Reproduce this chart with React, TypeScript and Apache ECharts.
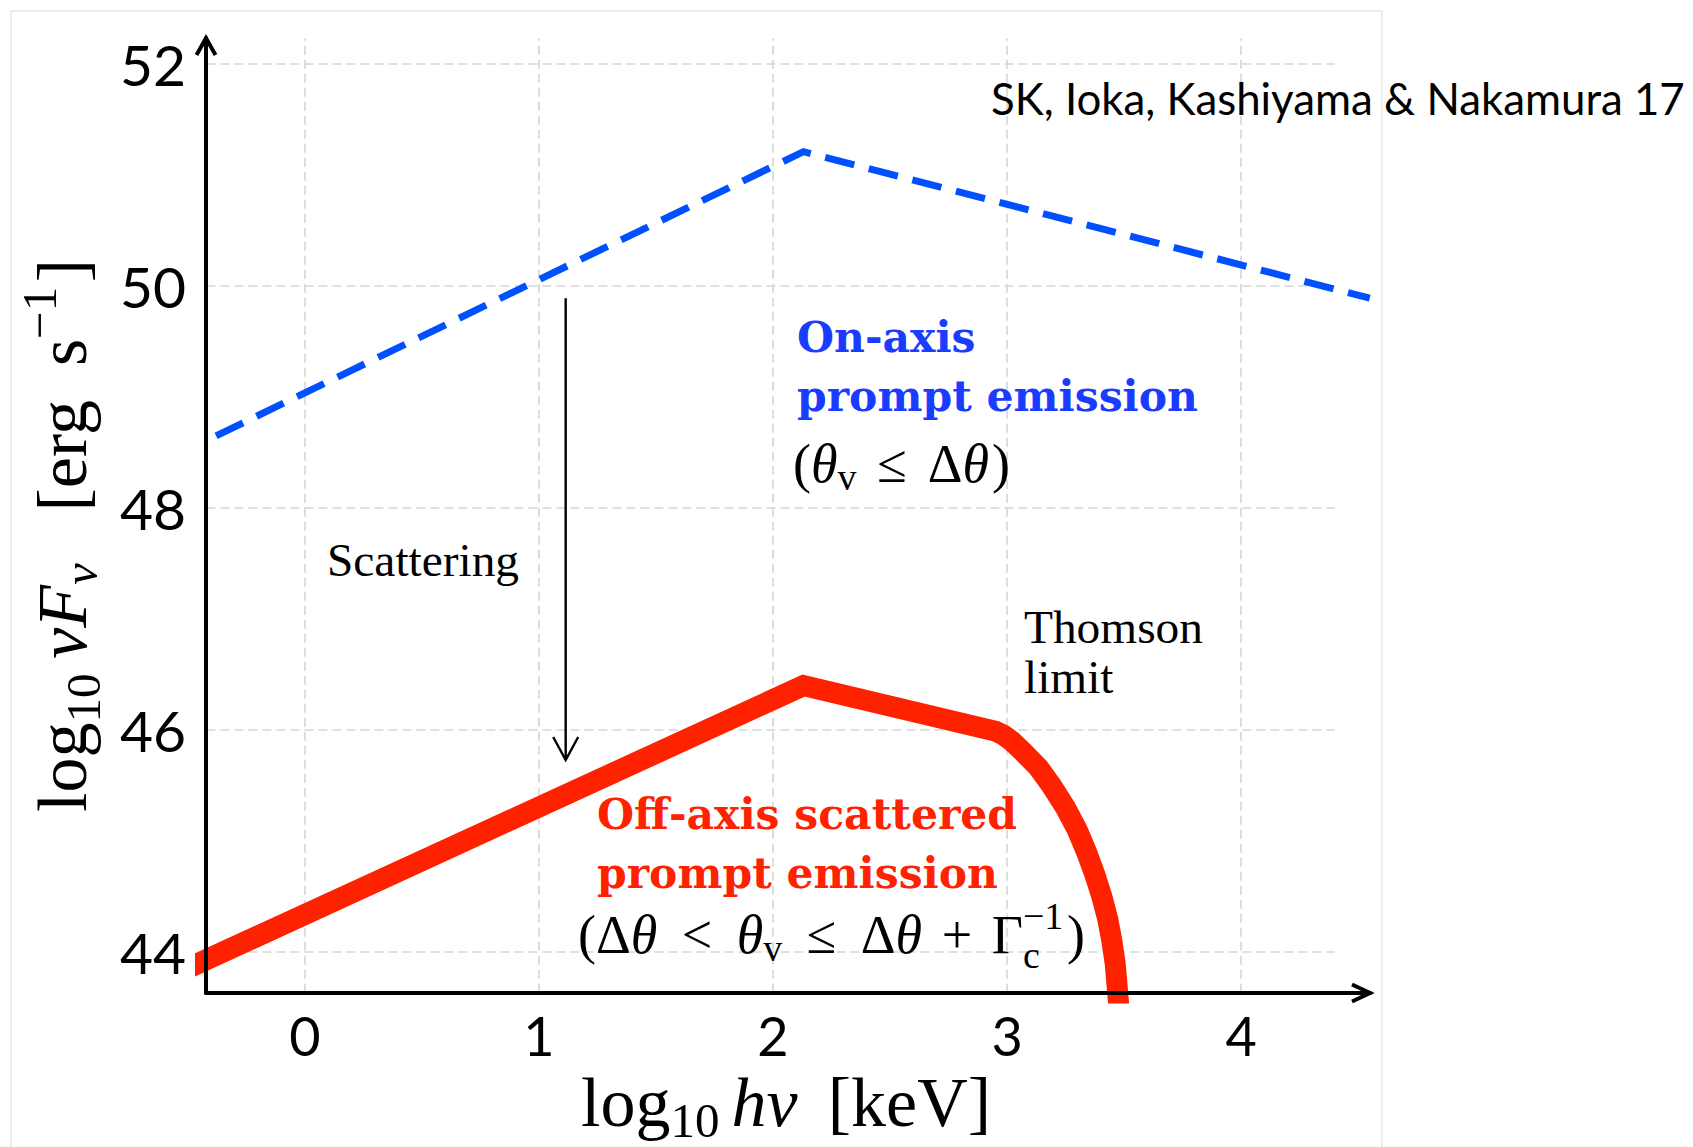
import React, { useEffect, useRef } from "react";
import * as echarts from "echarts";

// Axis extents: log10 hν [keV] horizontally, log10 νFν [erg/s] vertically
const X_MIN = -0.423;
const X_MAX = 4.551;
const Y_MIN = 43.631;
const Y_MAX = 52.234;
const X_TICKS = [0, 1, 2, 3, 4];
const Y_TICKS = [44, 46, 48, 50, 52];
const H_GRID_END = 4.4; // horizontal guides stop short of the arrow head

// On-axis prompt emission: broken power law
const ON_AXIS_X = [-0.38, 2.13, 4.55];
const ON_AXIS_Y = [48.65, 51.21, 49.89];

// Off-axis scattered prompt emission, cut off above the Thomson limit
const OFF_AXIS_X = [-0.5, 2.13, 2.9, 2.95, 2.985, 3.02, 3.07, 3.135, 3.19, 3.25, 3.3, 3.34, 3.375, 3.405, 3.43, 3.448, 3.462, 3.48];
const OFF_AXIS_Y = [43.855, 46.4, 46.015, 45.99, 45.955, 45.9, 45.8, 45.66, 45.5, 45.3, 45.1, 44.9, 44.7, 44.5, 44.3, 44.1, 43.9, 43.45];

// "Scattering" arrow from the on-axis to the off-axis spectrum
const SCATTER_ARROW_X = [1.114, 1.114];
const SCATTER_ARROW_Y = [49.89, 45.73];

const GRID = { left: 206, top: 38, width: 1164, height: 955 };

const SERIF = "'Liberation Serif', 'Times New Roman', serif";
const BOLD_SERIF = "'DejaVu Serif', serif";
const SANS = "Lato, 'Open Sans', sans-serif";
// distance from the alphabetic baseline to the central baseline, in em
const K_SERIF = 0.3375;
const K_DEJAVU = 0.346;
const K_LATO = 0.387;

const BLUE_LINE = "#0050ff";
const BLUE_TEXT = "#1a3cff";
const RED = "#ff2200";

type Run = { t: string; s: number; it?: boolean; bf?: boolean; fam?: string; k?: number; dy?: number };
type Item = Run | { stack: Run[] } | { gap: number };

const zip = (xs: number[], ys: number[]) => xs.map((x, i) => [x, ys[i]]);

let measureCtx: CanvasRenderingContext2D | null = null;
function fontOf(r: Run) {
  return `${r.it ? "italic " : ""}${r.bf ? "bold " : ""}${r.s}px ${r.fam ?? SERIF}`;
}
function widthOf(r: Run) {
  if (!measureCtx) measureCtx = document.createElement("canvas").getContext("2d");
  measureCtx!.font = fontOf(r);
  return measureCtx!.measureText(r.t).width;
}
function itemWidth(it: Item): number {
  if ("gap" in it) return 0;
  if ("stack" in it) return Math.max(...it.stack.map(widthOf));
  return widthOf(it);
}
function fitSize(text: string, fam: string, bf: boolean, target: number) {
  return (target / widthOf({ t: text, s: 100, fam, bf })) * 100;
}

// Lays out a row of text runs on one baseline; gaps share the leftover width up to x1.
function setLine(items: Item[], x0: number, x1: number | null, baseline: number, fill: string) {
  const natural = items.reduce((a, it) => a + itemWidth(it), 0);
  const gapSum = items.reduce((a, it) => a + ("gap" in it ? it.gap : 0), 0);
  const unit = x1 !== null && gapSum > 0 ? (x1 - x0 - natural) / gapSum : 0;
  const els: any[] = [];
  const put = (r: Run, x: number) =>
    els.push({
      type: "text",
      x,
      y: baseline + (r.dy ?? 0) - (r.k ?? K_SERIF) * r.s,
      z: 100,
      silent: true,
      style: {
        text: r.t,
        font: fontOf(r),
        fill,
        align: "left",
        verticalAlign: "middle",
        textAlign: "left",
        textVerticalAlign: "middle",
      },
    });
  let x = x0;
  for (const it of items) {
    if ("gap" in it) {
      x += it.gap * unit;
      continue;
    }
    if ("stack" in it) it.stack.forEach((r) => put(r, x));
    else put(it, x);
    x += itemWidth(it);
  }
  return els;
}

function buildGraphics(px: (x: number, y: number) => number[]) {
  const els: any[] = [];

  // light frame around the figure
  els.push({
    type: "rect",
    z: 0,
    silent: true,
    shape: { x: 11, y: 11, width: 1371, height: 1150 },
    style: { fill: "none", stroke: "#e6e6e6", lineWidth: 1.5 },
  });

  // axis arrow heads
  const xEnd = px(X_MAX, Y_MIN);
  const yEnd = px(X_MIN, Y_MAX);
  els.push({
    type: "polyline",
    z: 100,
    silent: true,
    shape: { points: [[xEnd[0] - 18, xEnd[1] - 8.5], xEnd, [xEnd[0] - 18, xEnd[1] + 8.5]] },
    style: { stroke: "#000", lineWidth: 4, fill: "none", lineJoin: "miter" },
  });
  els.push({
    type: "polyline",
    z: 100,
    silent: true,
    shape: { points: [[yEnd[0] - 9.5, yEnd[1] + 17], yEnd, [yEnd[0] + 9.5, yEnd[1] + 17]] },
    style: { stroke: "#000", lineWidth: 4, fill: "none", lineJoin: "miter" },
  });
  const tip = px(SCATTER_ARROW_X[1], SCATTER_ARROW_Y[1]);
  els.push({
    type: "polyline",
    z: 100,
    silent: true,
    shape: { points: [[tip[0] - 12.5, tip[1] - 23], tip, [tip[0] + 12.5, tip[1] - 23]] },
    style: { stroke: "#000", lineWidth: 2.4, fill: "none", lineJoin: "miter" },
  });

  // credit line
  const skSize = fitSize("SK, Ioka, Kashiyama & Nakamura 17", SANS, false, 694);
  els.push(...setLine([{ t: "SK, Ioka, Kashiyama & Nakamura 17", s: skSize, fam: SANS, k: K_LATO }], 991, null, 115, "#000"));

  // plain serif notes
  const noteSize = (fitSize("Scattering", SERIF, false, 193) + fitSize("Thomson", SERIF, false, 178)) / 2;
  els.push(...setLine([{ t: "Scattering", s: noteSize }], 327, null, 576, "#000"));
  els.push(...setLine([{ t: "Thomson", s: noteSize }], 1024, null, 643, "#000"));
  els.push(...setLine([{ t: "limit", s: noteSize }], 1024, null, 693, "#000"));

  // bold spectrum labels
  const bs = fitSize("prompt emission", BOLD_SERIF, true, 401);
  const bold = (t: string): Run => ({ t, s: bs, bf: true, fam: BOLD_SERIF, k: K_DEJAVU });
  els.push(...setLine([bold("On-axis")], 797, null, 352, BLUE_TEXT));
  els.push(...setLine([bold("prompt emission")], 797, null, 411, BLUE_TEXT));
  els.push(...setLine([bold("Off-axis scattered")], 597, null, 829, RED));
  els.push(...setLine([bold("prompt emission")], 597, null, 888, RED));

  // viewing-angle conditions
  const m = 54;
  const sub = 38;
  els.push(
    ...setLine(
      [
        { t: "(", s: m },
        { t: "θ", s: m, it: true },
        { t: "v", s: sub, dy: 8 },
        { gap: 1 },
        { t: "≤", s: m },
        { gap: 1 },
        { t: "Δ", s: m },
        { t: "θ", s: m, it: true },
        { gap: 0.15 },
        { t: ")", s: m },
      ],
      793,
      1010,
      482,
      "#000"
    )
  );
  els.push(
    ...setLine(
      [
        { t: "(", s: m },
        { t: "Δ", s: m },
        { t: "θ", s: m, it: true },
        { gap: 1 },
        { t: "<", s: m },
        { gap: 1 },
        { t: "θ", s: m, it: true },
        { t: "v", s: sub, dy: 8 },
        { gap: 1 },
        { t: "≤", s: m },
        { gap: 1 },
        { t: "Δ", s: m },
        { t: "θ", s: m, it: true },
        { gap: 0.8 },
        { t: "+", s: m },
        { gap: 0.8 },
        { t: "Γ", s: m },
        { stack: [{ t: "−1", s: sub, dy: -24 }, { t: "c", s: sub, dy: 15 }] },
        { gap: 0.15 },
        { t: ")", s: m },
      ],
      578,
      1085,
      953,
      "#000"
    )
  );

  // axis titles
  const ts = 70;
  const ss = 49;
  els.push(
    ...setLine(
      [
        { t: "log", s: ts },
        { t: "10", s: ss, dy: 11 },
        { gap: 1 },
        { t: "h", s: ts, it: true },
        { t: "ν", s: ts, it: true },
        { gap: 2.5 },
        { t: "[keV]", s: ts },
      ],
      581,
      991,
      1126,
      "#000"
    )
  );
  els.push({
    type: "group",
    x: 86,
    y: 812,
    rotation: Math.PI / 2,
    z: 100,
    children: setLine(
      [
        { t: "log", s: ts },
        { t: "10", s: ss, dy: 14 },
        { gap: 1 },
        { t: "ν", s: ts, it: true },
        { t: "F", s: ts, it: true },
        { t: "ν", s: ss, it: true, dy: 11 },
        { gap: 3.5 },
        { t: "[erg", s: ts },
        { gap: 2.3 },
        { t: "s", s: ts },
        { t: "−1", s: ss, dy: -30 },
        { gap: 0.3 },
        { t: "]", s: ts },
      ],
      0,
      553,
      0,
      "#000"
    ),
  });

  return els;
}

function baseOption(): echarts.EChartsCoreOption {
  const axisLine = { show: true, onZero: false, lineStyle: { color: "#000", width: 4 } };
  return {
    animation: false,
    backgroundColor: "#ffffff",
    grid: { ...GRID, containLabel: false, outerBoundsMode: "none" },
    xAxis: {
      type: "value",
      min: X_MIN,
      max: X_MAX,
      z: 6,
      axisLine,
      axisTick: { show: false },
      splitLine: { show: false },
      axisLabel: {
        customValues: X_TICKS,
        fontFamily: SANS,
        fontSize: 54,
        lineHeight: 54,
        color: "#000",
        margin: 15,
      },
    },
    yAxis: {
      type: "value",
      min: Y_MIN,
      max: Y_MAX,
      z: 6,
      axisLine,
      axisTick: { show: false },
      splitLine: { show: false },
      axisLabel: {
        customValues: Y_TICKS,
        fontFamily: SANS,
        fontSize: 57,
        lineHeight: 57,
        color: "#000",
        margin: 20,
      },
    },
    series: [
      {
        // carries the dashed guide lines
        type: "line",
        data: [[X_TICKS[0], Y_TICKS[0]]],
        symbol: "none",
        lineStyle: { opacity: 0 },
        silent: true,
        z: 1,
        markLine: {
          silent: true,
          z: 1,
          symbol: ["none", "none"],
          label: { show: false },
          animation: false,
          emphasis: { disabled: true },
          lineStyle: { color: "#d5d5d5", width: 1.6, type: [9, 5] },
          data: [
            ...X_TICKS.map((v) => [{ coord: [v, Y_MIN + 0.002] }, { coord: [v, Y_MAX - 0.002] }]),
            ...Y_TICKS.map((v) => [{ coord: [X_MIN + 0.002, v] }, { coord: [H_GRID_END, v] }]),
          ],
        },
      },
      {
        name: "On-axis prompt emission",
        type: "line",
        data: zip(ON_AXIS_X, ON_AXIS_Y),
        symbol: "none",
        z: 3,
        lineStyle: { color: BLUE_LINE, width: 7, type: [30, 15], cap: "butt", join: "miter" },
      },
      {
        name: "Off-axis scattered prompt emission",
        type: "line",
        data: zip(OFF_AXIS_X, OFF_AXIS_Y),
        symbol: "none",
        clip: true,
        z: 3,
        lineStyle: { color: RED, width: 21, cap: "butt", join: "miter" },
      },
      {
        name: "Scattering",
        type: "line",
        data: zip(SCATTER_ARROW_X, SCATTER_ARROW_Y),
        symbol: "none",
        z: 4,
        lineStyle: { color: "#000", width: 2.4 },
      },
    ],
  };
}

export default function App() {
  const ref = useRef<HTMLDivElement>(null);
  useEffect(() => {
    if (!ref.current) return;
    const chart = echarts.init(ref.current, undefined, { renderer: "svg" });
    chart.setOption(baseOption());
    const px = (x: number, y: number) => chart.convertToPixel({ gridIndex: 0 }, [x, y]) as number[];
    chart.setOption({ graphic: { elements: buildGraphics(px) } });
    return () => chart.dispose();
  }, []);
  return (
    <div
      ref={ref}
      style={{ position: "fixed", left: 0, top: 0, width: 1693, height: 1147, background: "#fff" }}
    />
  );
}
